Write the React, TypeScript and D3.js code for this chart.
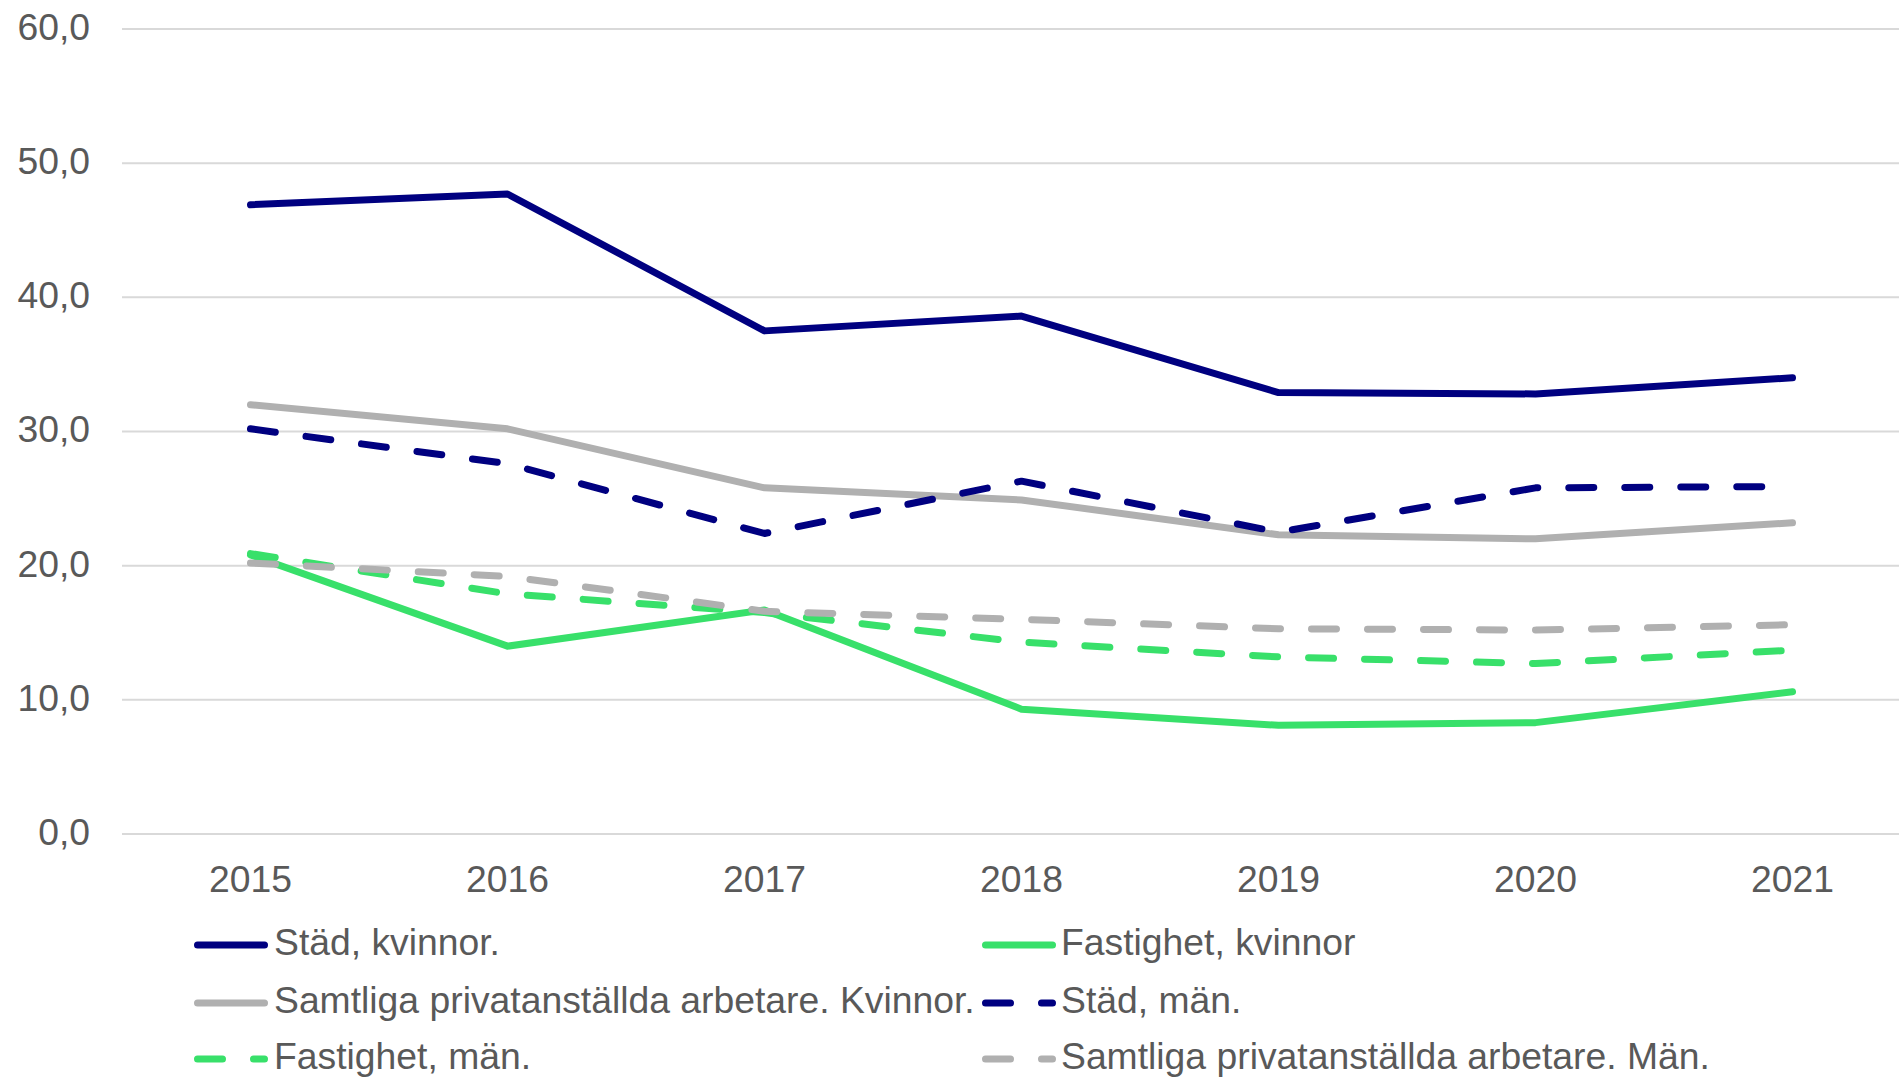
import React from "react";
import * as d3 from "d3";

const years = ["2015", "2016", "2017", "2018", "2019", "2020", "2021"];
const yTicks = [0, 10, 20, 30, 40, 50, 60];

const stadKvinnor = [46.9, 47.7, 37.5, 38.6, 32.9, 32.8, 34.0];
const fastighetKvinnor = [20.8, 14.0, 16.7, 9.3, 8.1, 8.3, 10.6];
const samtligaKvinnor = [32.0, 30.2, 25.8, 24.9, 22.3, 22.0, 23.2];
const stadMan = [30.2, 27.6, 22.4, 26.3, 22.5, 25.8, 25.9];
const fastighetMan = [20.9, 17.9, 16.5, 14.3, 13.2, 12.7, 13.7];
const samtligaMan = [20.2, 19.2, 16.6, 16.0, 15.3, 15.2, 15.6];

const NAVY = "#000080";
const GREEN = "#38E06A";
const GRAY = "#B0B0B0";

const series = [
  { name: "Städ, kvinnor.", values: stadKvinnor, color: NAVY, dashed: false },
  { name: "Fastighet, kvinnor", values: fastighetKvinnor, color: GREEN, dashed: false },
  { name: "Samtliga privatanställda arbetare. Kvinnor.", values: samtligaKvinnor, color: GRAY, dashed: false },
  { name: "Städ, män.", values: stadMan, color: NAVY, dashed: true },
  { name: "Fastighet, män.", values: fastighetMan, color: GREEN, dashed: true },
  { name: "Samtliga privatanställda arbetare. Män.", values: samtligaMan, color: GRAY, dashed: true },
];

export default function App() {
  const W = 1899;
  const H = 1077;
  const plotLeft = 122;
  const step = 257;
  const x = d3.scaleBand<string>().domain(years).range([plotLeft, plotLeft + step * years.length]);
  const cx = (yr: string) => (x(yr) as number) + x.bandwidth() / 2;
  const y = d3.scaleLinear().domain([0, 60]).range([834, 29]);
  const line = d3
    .line<number>()
    .x((_, i) => cx(years[i]))
    .y((v) => y(v));

  const font = "'Liberation Sans', Arial, sans-serif";
  const textColor = "#595959";
  const fs = 37.3;
  const lw = 7;
  const dash = "25 31";

  const legendRows = [945, 1003, 1059];
  const legendCols = [{ lx: 197.5, tx: 274 }, { lx: 985.5, tx: 1061 }];

  return (
    <svg
      width={W}
      height={H}
      style={{ position: "absolute", left: 0, top: 0, background: "#fff" }}
      fontFamily={font}
    >
      <rect x={0} y={0} width={W} height={H} fill="#fff" />
      {yTicks.map((t) => (
        <g key={t}>
          <line x1={plotLeft} x2={W} y1={y(t)} y2={y(t)} stroke="#D9D9D9" strokeWidth={2} />
          <text x={90} y={y(t) + 1} textAnchor="end" dominantBaseline="middle" fontSize={fs} fill={textColor}>
            {d3.format(".1f")(t).replace(".", ",")}
          </text>
        </g>
      ))}
      {years.map((yr) => (
        <text key={yr} x={cx(yr)} y={882} textAnchor="middle" dominantBaseline="middle" fontSize={fs} fill={textColor}>
          {yr}
        </text>
      ))}
      {series.map((s) => (
        <path
          key={s.name}
          d={line(s.values) as string}
          fill="none"
          stroke={s.color}
          strokeWidth={lw}
          strokeLinecap="round"
          strokeLinejoin="round"
          strokeDasharray={s.dashed ? dash : undefined}
        />
      ))}
      {series.map((s, i) => {
        const row = Math.floor(i / 2);
        const col = legendCols[i % 2];
        const ly = legendRows[row];
        return (
          <g key={"lg" + s.name}>
            <line
              x1={col.lx}
              x2={col.lx + 67}
              y1={ly}
              y2={ly}
              stroke={s.color}
              strokeWidth={lw}
              strokeLinecap="round"
              strokeDasharray={s.dashed ? dash : undefined}
            />
            <text x={col.tx} y={ly} dominantBaseline="middle" fontSize={fs} fill={textColor}>
              {s.name}
            </text>
          </g>
        );
      })}
    </svg>
  );
}
